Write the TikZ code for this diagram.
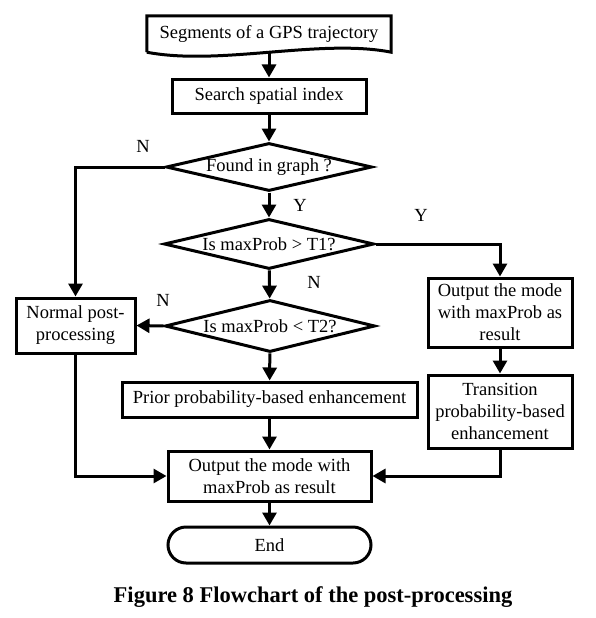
\documentclass[tikz,border=0pt]{standalone}
\usepackage{fontspec}
\setmainfont{Liberation Serif}
\usetikzlibrary{arrows.meta,shapes.geometric}
\tikzset{%
    >={Triangle[length=13pt,width=14pt]},
    procbox/.style={draw, line width=3pt, align=center, inner sep=0pt},
    decision/.style={draw, diamond, line width=3pt, aspect=4.3, inner sep=0pt},
    lbl/.style={inner sep=0pt},
    flow/.style={line width=3pt, ->}
}

\begin{document}
\begin{tikzpicture}[x=1pt,y=-1pt,font=\fontsize{18.5}{22}\selectfont]
        \useasboundingbox (0,0) rectangle (595,618);

        \node (seg) at (269,34) [minimum width=244pt, minimum height=36pt, inner sep=0pt] {Segments of a GPS trajectory};
        \draw[line width=3pt, line join=miter] (seg.south west) -- (seg.north west) -- (seg.north east) -- (seg.south east) .. controls +(-71,-14) and +(73,14) .. (seg.south west);

        \node (search) at (269,96) [procbox, minimum width=194pt, minimum height=34pt] {Search spatial index};
        \node (found) at (269,167) [decision, minimum width=206pt, minimum height=48pt] {Found in graph ?};
        \node (t1) at (269,244) [decision, minimum width=210pt, minimum height=50pt] {Is maxProb > T1?};
        \node (t2) at (270,326) [decision, minimum width=210pt, minimum height=52pt] {Is maxProb < T2?};
        \node (normal) at (75.5,325.5) [procbox, minimum width=119pt, minimum height=55pt] {Normal post-\\processing};
        \node (prior) at (269.5,399.5) [procbox, minimum width=295pt, minimum height=35pt] {Prior probability-based enhancement};
        \node (outA) at (500,312.5) [procbox, minimum width=144pt, minimum height=69pt] {Output the mode\\with maxProb as\\result};
        \node (trans) at (500,411.5) [procbox, minimum width=144pt, minimum height=73pt] {Transition\\probability-based\\enhancement};
        \node (out) at (269.5,476) [procbox, minimum width=203pt, minimum height=50pt] {Output the mode with\\maxProb as result};
        \node (end) at (269.5,545) [procbox, rounded corners=18pt, minimum width=203pt, minimum height=36pt] {End};

        \node[lbl] (nfound) at (143,146) {N};
        \node[lbl] (yfound) at (300,205) {Y};
        \node[lbl] (yt1) at (421,215) {Y};
        \node[lbl] (nt1) at (314,282) {N};
        \node[lbl] (nt2) at (163,300) {N};

        \draw[flow] (seg.south) -- (search);
        \draw[flow] (search) -- (found);
        \draw[flow] (found.west) -| (normal.north);
        \draw[flow] (found) -- (t1);
        \draw[flow] (t1.east) -| (outA.north);
        \draw[flow] (t1) -- (t2);
        \draw[flow] (t2.west) -- (normal.east);
        \draw[flow] (t2) -- (prior);
        \draw[flow] (prior) -- (out);
        \draw[flow] (outA) -- (trans);
        \draw[flow] (normal.south) |- (out.west);
        \draw[flow] (trans.south) |- (out.east);
        \draw[flow] (out) -- (end);

        \node (caption) at (313,597) [font=\fontsize{22.5}{26}\selectfont\bfseries] {Figure 8 Flowchart of the post-processing};
    \end{tikzpicture}
\end{document}
